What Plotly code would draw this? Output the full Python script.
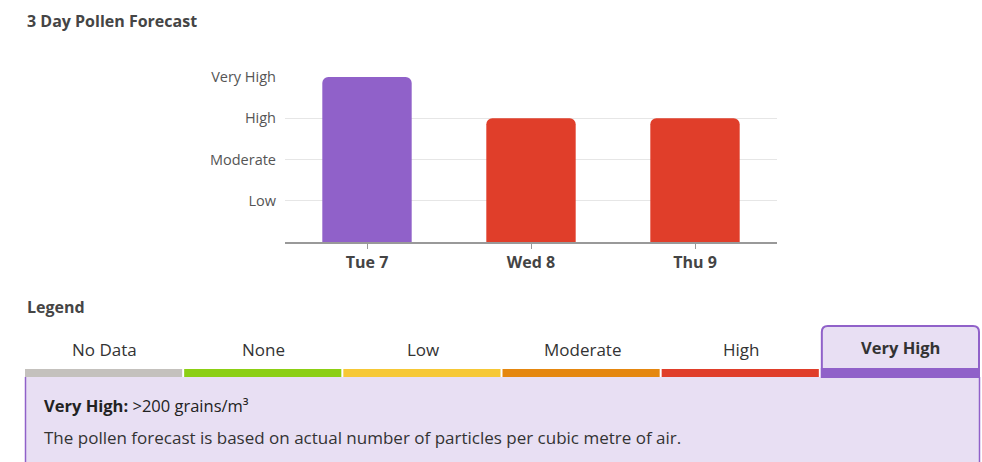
import plotly.graph_objects as go

days = ["Tue 7", "Wed 8", "Thu 9"]
levels = [4, 3, 3]
bar_colors = ["#9061c9", "#e03e2a", "#e03e2a"]
level_vals = [1, 2, 3, 4]
level_names = ["Low", "Moderate", "High", "Very High"]

legend_names = ["No Data", "None", "Low", "Moderate", "High", "Very High"]
legend_colors = ["#c4c1bd", "#8ccf14", "#f6c836", "#e5870f", "#e03e2a", "#9061c9"]

W, H = 982, 462
L, R, T, B = 285, 777, 77, 242  # plot area in screen pixels
FONT = "Open Sans"


def px(x):
    return (x - L) / (R - L)


def py(y):
    return (B - y) / (B - T)


fig = go.Figure(go.Bar(
    x=days, y=levels, marker=dict(color=bar_colors, cornerradius=6, line=dict(width=0)),
    width=0.545, hoverinfo="skip"))

shapes = []
annotations = []

annotations.append(dict(text="<b>3 Day Pollen Forecast</b>", x=px(25), y=py(21), xref="paper", yref="paper",
                        xanchor="left", yanchor="middle", showarrow=False,
                        font=dict(size=16, color="#454545", family=FONT)))
annotations.append(dict(text="<b>Legend</b>", x=px(25), y=py(307), xref="paper", yref="paper",
                        xanchor="left", yanchor="middle", showarrow=False,
                        font=dict(size=16, color="#454545", family=FONT)))

# info box
x0, x1 = 25, 980
shapes.append(dict(type="rect", xref="paper", yref="paper", x0=px(x0), x1=px(x1), y0=py(377), y1=py(470),
                   fillcolor="#e8dff3", line=dict(width=0), layer="below"))
shapes.append(dict(type="line", xref="paper", yref="paper", x0=px(x0 + 0.5), x1=px(x0 + 0.5), y0=py(377), y1=py(470),
                   line=dict(color="#9061c9", width=1.5)))
shapes.append(dict(type="line", xref="paper", yref="paper", x0=px(x1 - 0.5), x1=px(x1 - 0.5), y0=py(377), y1=py(470),
                   line=dict(color="#9061c9", width=1.5)))

tab_w = (x1 - x0) / 6
for i, (name, col) in enumerate(zip(legend_names, legend_colors)):
    tx0 = x0 + i * tab_w
    tx1 = tx0 + tab_w
    cx = (tx0 + tx1) / 2
    if name == "Very High":
        r = 6
        a0, a1, b0, b1 = tx0 + 1, tx1 - 1, 326, 377
        path = (f"M {px(a0)},{py(b1)} L {px(a0)},{py(b0 + r)} "
                f"Q {px(a0)},{py(b0)} {px(a0 + r)},{py(b0)} "
                f"L {px(a1 - r)},{py(b0)} Q {px(a1)},{py(b0)} {px(a1)},{py(b0 + r)} "
                f"L {px(a1)},{py(b1)} Z")
        shapes.append(dict(type="path", xref="paper", yref="paper", path=path,
                           fillcolor="#e8dff3", line=dict(color="#9061c9", width=2)))
        shapes.append(dict(type="rect", xref="paper", yref="paper", x0=px(tx0), x1=px(tx1), y0=py(368), y1=py(377),
                           fillcolor=col, line=dict(width=0)))
        annotations.append(dict(text=f"<b>{name}</b>", x=px(cx), y=py(347), xref="paper", yref="paper",
                                xanchor="center", yanchor="middle", showarrow=False,
                                font=dict(size=16.5, color="#333333", family=FONT)))
    else:
        shapes.append(dict(type="rect", xref="paper", yref="paper", x0=px(tx0), x1=px(tx1 - 2), y0=py(369), y1=py(377),
                           fillcolor=col, line=dict(width=0)))
        annotations.append(dict(text=name, x=px(cx), y=py(349), xref="paper", yref="paper",
                                xanchor="center", yanchor="middle", showarrow=False,
                                font=dict(size=17, color="#333333", family=FONT)))

annotations.append(dict(text="<b>Very High:</b> >200 grains/m³", x=px(42), y=py(405), xref="paper", yref="paper",
                        xanchor="left", yanchor="middle", showarrow=False,
                        font=dict(size=16.5, color="#222222", family=FONT)))
annotations.append(dict(text="The pollen forecast is based on actual number of particles per cubic metre of air.",
                        x=px(42), y=py(437), xref="paper", yref="paper",
                        xanchor="left", yanchor="middle", showarrow=False,
                        font=dict(size=17, color="#333333", family=FONT)))

fig.update_layout(
    width=W, height=H,
    margin=dict(l=L, r=W - R, t=T, b=H - B, pad=0),
    paper_bgcolor="white", plot_bgcolor="white",
    showlegend=False,
    shapes=shapes, annotations=annotations,
    font=dict(family=FONT),
)
fig.update_xaxes(showline=True, linecolor="#999999", linewidth=2, ticks="outside", ticklen=5,
                 tickcolor="#999999", tickwidth=1,
                 tickfont=dict(size=16, color="#444444", family=FONT),
                 tickprefix="<b>", ticksuffix="</b>", showgrid=False)
fig.update_yaxes(range=[0, 4], tickvals=level_vals, ticktext=level_names, showgrid=True,
                 gridcolor="#e6e6e6", gridwidth=1, zeroline=False, showline=False,
                 tickfont=dict(size=14.5, color="#555555", family=FONT), ticks="", ticklabelstandoff=8)

fig.write_html("out.html", config={"displayModeBar": False},
               post_script="document.body.style.margin='0';document.body.style.overflow='hidden';")
